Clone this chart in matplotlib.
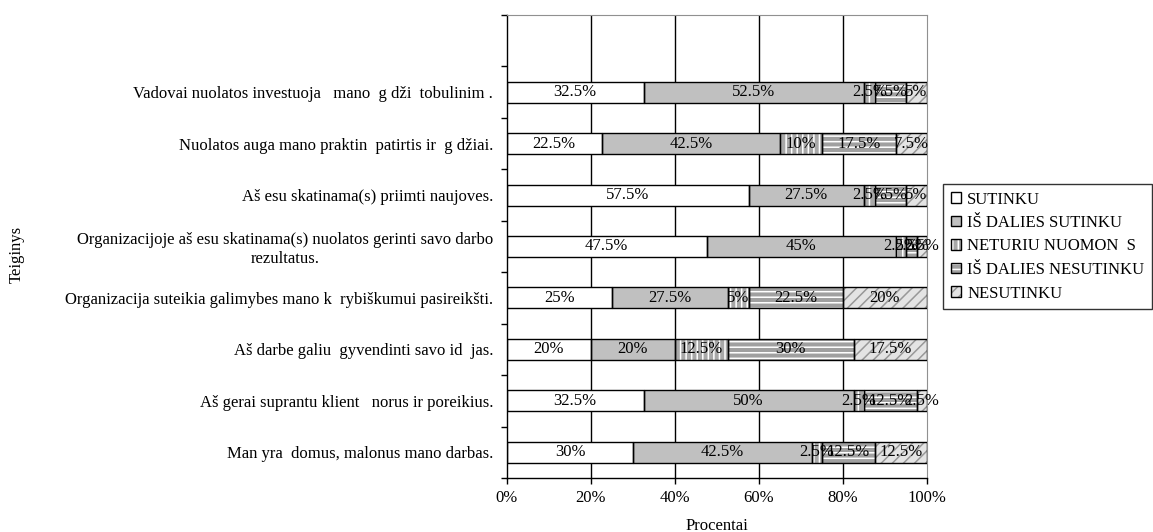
import matplotlib
matplotlib.use("Agg")
import matplotlib.pyplot as plt
import numpy as np

plt.rcParams['font.family'] = ['Liberation Serif', 'DejaVu Serif']
plt.rcParams['hatch.linewidth'] = 1.1

# Statements, top to bottom
statements = [
    "Vadovai nuolatos investuoja   mano  g dži  tobulinim .",
    "Nuolatos auga mano praktin  patirtis ir  g džiai.",
    "Aš esu skatinama(s) priimti naujoves.",
    "Organizacijoje aš esu skatinama(s) nuolatos gerinti savo darbo\nrezultatus.",
    "Organizacija suteikia galimybes mano k  rybiškumui pasireikšti.",
    "Aš darbe galiu  gyvendinti savo id  jas.",
    "Aš gerai suprantu klient   norus ir poreikius.",
    "Man yra  domus, malonus mano darbas.",
]

series_names = ["SUTINKU", "IŠ DALIES SUTINKU", "NETURIU NUOMON  S",
                "IŠ DALIES NESUTINKU", "NESUTINKU"]

sutinku = [32.5, 22.5, 57.5, 47.5, 25.0, 20.0, 32.5, 30.0]
is_dalies_sutinku = [52.5, 42.5, 27.5, 45.0, 27.5, 20.0, 50.0, 42.5]
neturiu_nuomones = [2.5, 10.0, 2.5, 2.5, 5.0, 12.5, 2.5, 2.5]
is_dalies_nesutinku = [7.5, 17.5, 7.5, 2.5, 22.5, 30.0, 12.5, 12.5]
nesutinku = [5.0, 7.5, 5.0, 2.5, 20.0, 17.5, 2.5, 12.5]

x_ticks = [0, 20, 40, 60, 80, 100]
x_tick_labels = ["0%", "20%", "40%", "60%", "80%", "100%"]

series = [sutinku, is_dalies_sutinku, neturiu_nuomones, is_dalies_nesutinku, nesutinku]

# fill, hatch, hatch colour for each response
styles = [
    ("white", None, "white"),
    ("#c0c0c0", None, "#c0c0c0"),
    ("#a8a8a8", "|||", "white"),
    ("#a0a0a0", "---", "white"),
    ("#e4e4e4", "///", "#989898"),
]

FS = 12

fig = plt.figure(figsize=(11.53, 5.32), dpi=100)
ax = fig.add_axes([507 / 1153, 1 - 478 / 532, 420 / 1153, 463 / 532])

n = len(statements)
ypos = np.arange(n)[::-1]  # first statement on top
bar_h = 0.41

left = np.zeros(n)
handles = []
for vals, (fc, hatch, hc), name in zip(series, styles, series_names):
    vals = np.array(vals)
    fill = ax.barh(ypos, vals, left=left, height=bar_h, color=fc,
                   edgecolor=hc, hatch=hatch, linewidth=0, zorder=2)
    outline = ax.barh(ypos, vals, left=left, height=bar_h, facecolor="none",
                      edgecolor="black", linewidth=1.0, zorder=3)
    for y, l, v in zip(ypos, left, vals):
        ax.text(l + v / 2, y, f"{v:g}%", ha="center", va="center",
                fontsize=FS, zorder=4)
    handles.append((fill[0], outline[0]))
    left = left + vals

ax.set_xlim(0, 100)
ax.set_ylim(-0.5, n + 0.5)

ax.set_xticks(x_ticks)
ax.set_xticklabels(x_tick_labels, fontsize=FS)
ax.set_yticks(ypos)
ax.set_yticklabels(statements, fontsize=FS, multialignment="center")
ax.tick_params(axis="y", which="major", length=0, pad=10)
ax.set_yticks(np.arange(-0.5, n + 1, 1.0), minor=True)
ax.tick_params(axis="y", which="minor", length=4, direction="out", width=1)
ax.tick_params(axis="x", length=4, direction="out", width=1, pad=5)

for xv in x_ticks[1:-1]:
    ax.axvline(xv, color="black", linewidth=1.0, zorder=1)

for s in ("top", "right"):
    ax.spines[s].set_color("#909090")
for s in ("left", "bottom"):
    ax.spines[s].set_color("black")
    ax.spines[s].set_linewidth(1.0)

ax.set_xlabel("Procentai", fontsize=FS, labelpad=8)
ax.set_ylabel("Teiginys", fontsize=FS)
ax.yaxis.set_label_coords(-1.148, 0.482)

leg = fig.legend(handles, series_names, loc="upper left",
                 bbox_to_anchor=(943 / 1153, 1 - 184 / 532),
                 fontsize=FS, frameon=True, fancybox=False,
                 handlelength=0.6, handleheight=0.6, handletextpad=0.4,
                 labelspacing=0.45, borderpad=0.45, borderaxespad=0)
leg.get_frame().set_edgecolor("black")
leg.get_frame().set_linewidth(1.0)

fig.savefig("out.png", dpi=100)
